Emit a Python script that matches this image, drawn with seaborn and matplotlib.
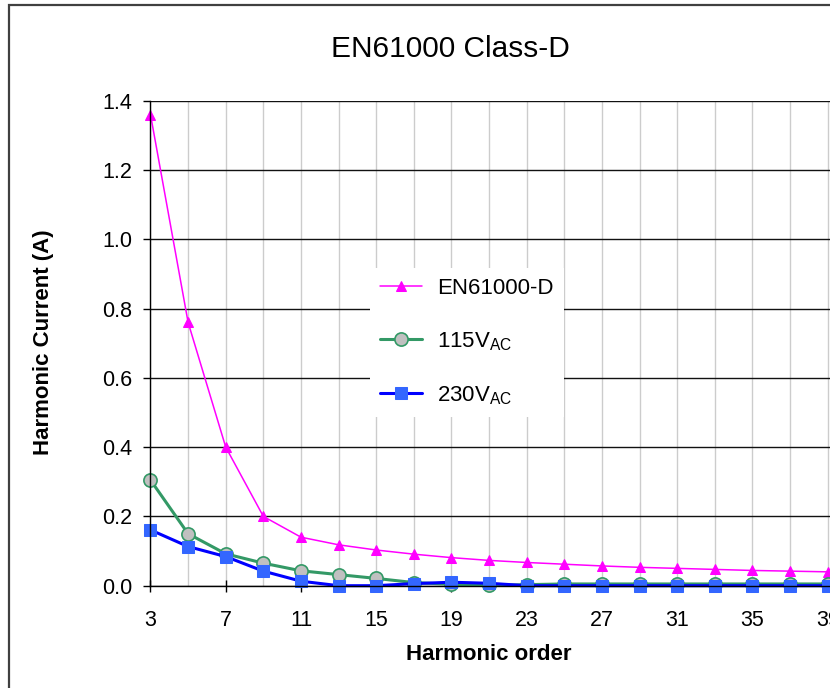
import pandas as pd
import seaborn as sns
import matplotlib.pyplot as plt
from matplotlib.ticker import MultipleLocator, FixedLocator
from matplotlib.patches import Rectangle

# ===== data =====
harmonic_order = [3, 5, 7, 9, 11, 13, 15, 17, 19, 21, 23, 25, 27, 29, 31, 33, 35, 37, 39]
en61000_d = [1.36, 0.76, 0.40, 0.20, 0.14, 0.118, 0.103, 0.091, 0.081, 0.073,
             0.067, 0.062, 0.057, 0.053, 0.050, 0.047, 0.044, 0.042, 0.040]
current_115v = [0.305, 0.150, 0.092, 0.065, 0.043, 0.032, 0.021, 0.009, 0.004, 0.001,
                0.003, 0.005, 0.005, 0.005, 0.005, 0.005, 0.005, 0.005, 0.005]
current_230v = [0.161, 0.113, 0.084, 0.042, 0.013, 0.000, 0.000, 0.006, 0.010, 0.007,
                0.000, 0.000, 0.000, 0.000, 0.000, 0.000, 0.000, 0.000, 0.000]
series_labels = ["EN61000-D", r"115V$_{\mathrm{AC}}$", r"230V$_{\mathrm{AC}}$"]
x_tick_labels = [3, 7, 11, 15, 19, 23, 27, 31, 35, 39]

# ===== style =====
sns.set_theme(style="white")
plt.rcParams["font.family"] = ["Liberation Sans", "DejaVu Sans"]
plt.rcParams["mathtext.fontset"] = "custom"
plt.rcParams["mathtext.rm"] = "Liberation Sans"
plt.rcParams["mathtext.it"] = "Liberation Sans:italic"
plt.rcParams["mathtext.bf"] = "Liberation Sans:bold"
for key in ["text.color", "axes.labelcolor", "xtick.color", "ytick.color"]:
    plt.rcParams[key] = "black"

fig = plt.figure(figsize=(8.3, 6.88), dpi=100)
fig.patch.set_facecolor("white")

# outer chart border (cropped at right and bottom)
fig.patches.append(Rectangle((9 / 830, -0.1), 1.2, (688 - 5) / 688 + 0.1,
                             transform=fig.transFigure, fill=False,
                             edgecolor="#404040", linewidth=1.6, zorder=0))

ax = fig.add_axes([0.1813, 0.1487, 0.8386, 0.705])

styles = [
    dict(color="#FF00FF", marker="^", markersize=7.5, markerfacecolor="#FF00FF",
         markeredgecolor="#FF00FF", linewidth=1.1),
    dict(color="#339966", marker="o", markersize=9.5, markerfacecolor="#C0C0C0",
         markeredgecolor="#339966", markeredgewidth=1.2, linewidth=2.2),
    dict(color="#0000FF", marker="s", markersize=9, markerfacecolor="#3366FF",
         markeredgecolor="#3366FF", linewidth=2.2),
]
for vals, label, st in zip([en61000_d, current_115v, current_230v], series_labels, styles):
    df = pd.DataFrame({"harmonic": harmonic_order, "current": vals})
    sns.lineplot(data=df, x="harmonic", y="current", ax=ax, label=label,
                 clip_on=False, **st)

# ===== axes =====
ax.set_xlim(3, 40)
ax.set_ylim(0, 1.4)
ax.xaxis.set_major_locator(FixedLocator(x_tick_labels))
ax.xaxis.set_minor_locator(MultipleLocator(2, offset=1))
ax.yaxis.set_major_locator(MultipleLocator(0.2))
ax.set_yticklabels([f"{v:.1f}" for v in ax.get_yticks()])

ax.set_axisbelow(True)
ax.grid(axis="x", which="both", color="#CCCCCC", linewidth=1.0)
ax.grid(axis="y", which="major", color="#111111", linewidth=1.0)

for s in ["top", "right"]:
    ax.spines[s].set_visible(False)
for s in ["left", "bottom"]:
    ax.spines[s].set_color("black")
    ax.spines[s].set_linewidth(1.0)

ax.tick_params(axis="x", which="major", direction="inout", length=9, width=1,
               color="black", labelsize=15.5, pad=13, bottom=True)
ax.tick_params(axis="x", which="minor", length=0)
ax.tick_params(axis="y", which="major", direction="out", length=5, width=1,
               color="black", labelsize=15.5, pad=8, left=True)

ax.set_xlabel("Harmonic order", fontsize=16, fontweight="bold")
ax.set_ylabel("Harmonic Current (A)", fontsize=16, fontweight="bold")
ax.xaxis.set_label_coords(489 / 830, 0.064, transform=fig.transFigure)
ax.yaxis.set_label_coords(54 / 830, 0.503, transform=fig.transFigure)

fig.text(450 / 830, (688 - 57) / 688, "EN61000 Class-D", ha="center",
         va="baseline", fontsize=21.5)

leg = ax.legend(loc="upper left", bbox_to_anchor=(0.3154, 0.656), borderaxespad=0,
                frameon=True, fontsize=16, handlelength=1.9, handletextpad=0.68,
                labelspacing=1.42, borderpad=0.45, fancybox=False)
leg.get_frame().set_facecolor("white")
leg.get_frame().set_edgecolor("none")
leg.get_frame().set_alpha(1)

plt.savefig("out.png", dpi=100)
plt.close()
